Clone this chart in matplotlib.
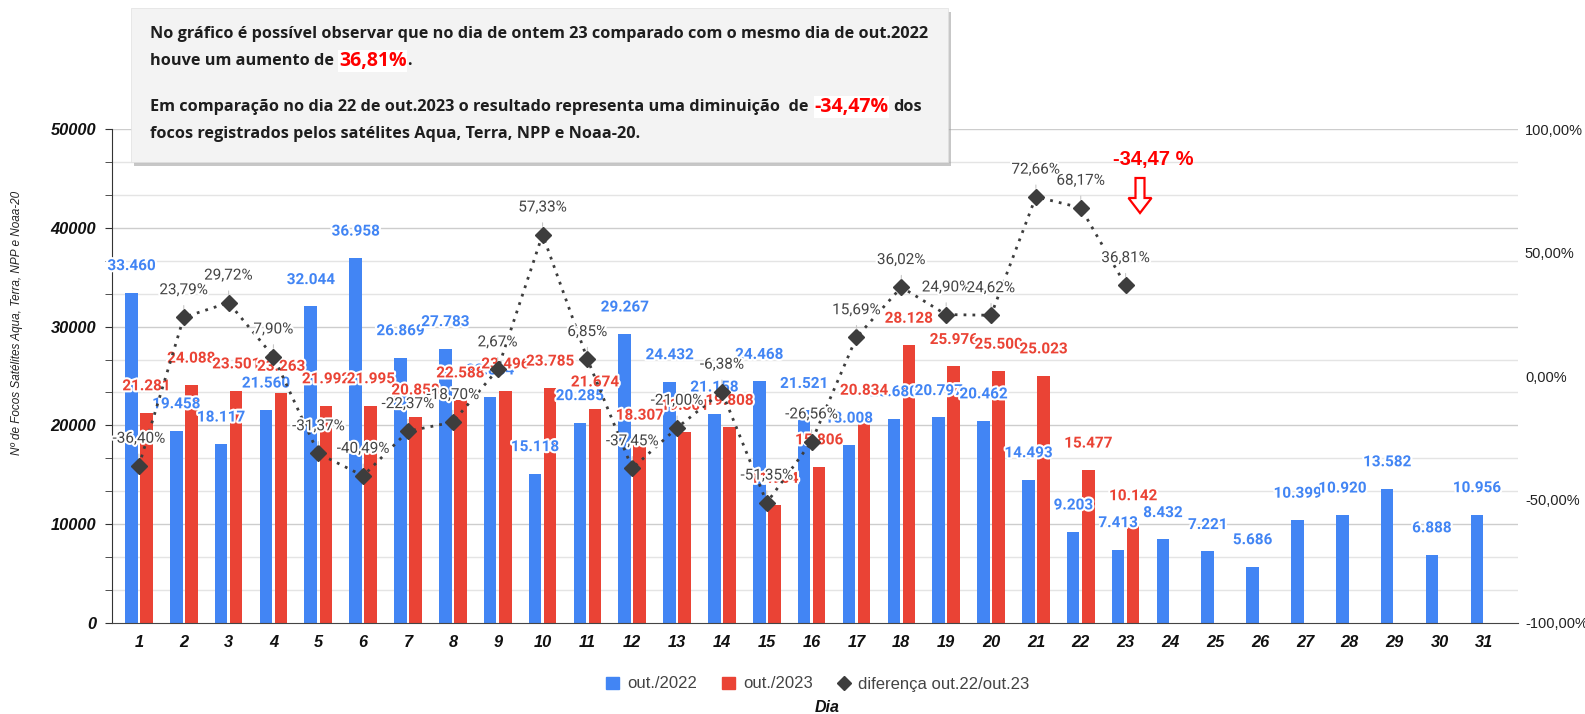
import matplotlib
matplotlib.use('Agg')
import matplotlib.pyplot as plt
import matplotlib.patches as mpatches
import matplotlib.patheffects as pe
from matplotlib.lines import Line2D

# Focos por dia - out/2022 e out/2023
days = list(range(1, 32))
focos_2022 = [33460, 19458, 18117, 21560, 32044, 36958, 26869, 27783, 22884, 15118,
              20285, 29267, 24432, 21158, 24468, 21521, 18008, 20680, 20797, 20462,
              14493, 9203, 7413, 8432, 7221, 5686, 10399, 10920, 13582, 6888, 10956]
focos_2023 = [21281, 24088, 23501, 23263, 21992, 21995, 20858, 22588, 23496, 23785,
              21674, 18307, 19301, 19808, 11904, 15806, 20834, 28128, 25976, 25500,
              25023, 15477, 10142]
diferenca = [-36.40, 23.79, 29.72, 7.90, -31.37, -40.49, -22.37, -18.70, 2.67, 57.33,
             6.85, -37.45, -21.00, -6.38, -51.35, -26.56, 15.69, 36.02, 24.90, 24.62,
             72.66, 68.17, 36.81]
days_2023 = days[:len(focos_2023)]

BLUE = '#4285F4'
RED = '#EA4335'
DARK = '#3d3d3d'


def fmt_int(v):
    return f'{v:,}'.replace(',', '.')


def fmt_pct(v):
    return f'{v:.2f}%'.replace('.', ',')


fig = plt.figure(figsize=(15.85, 7.14), dpi=100)
ax = fig.add_axes([112 / 1585, 1 - 622.7 / 714, (1518 - 112) / 1585, (622.7 - 129.3) / 714])

off = 0.168
w = 0.28
ax.bar([d - off for d in days], focos_2022, width=w, color=BLUE, zorder=2)
ax.bar([d + off for d in days_2023], focos_2023, width=w, color=RED, zorder=2)

halo = [pe.withStroke(linewidth=3, foreground='white')]
for d, v in zip(days, focos_2022):
    ax.annotate(fmt_int(v), (d - off, v), xytext=(0, 19), textcoords='offset points',
                ha='center', va='center', color=BLUE, fontsize=11, fontweight='bold',
                family='Roboto', path_effects=halo, zorder=4)
for d, v in zip(days_2023, focos_2023):
    ax.annotate(fmt_int(v), (d + off, v), xytext=(0, 19), textcoords='offset points',
                ha='center', va='center', color=RED, fontsize=11, fontweight='bold',
                family='Roboto', path_effects=halo, zorder=4)

# grade: 15 divisoes, mais escuras a cada 10000
for k in range(1, 16):
    ax.axhline(k * 50000 / 15, color='#cdcdcd' if k % 3 == 0 else '#e4e4e4', lw=1, zorder=0)

ax.set_xlim(0.40, 31.75)
ax.set_ylim(0, 50000)
ax.set_xticks(days)
ax.set_xticklabels([str(d) for d in days])
ax.set_yticks(range(0, 50001, 10000))
ax.set_yticks([k * 50000 / 15 for k in range(15) if k % 3 != 0], minor=True)
ax.tick_params(axis='x', length=0, pad=9)
ax.tick_params(axis='y', which='both', length=5, color='#333', pad=6.5)
for lab in ax.get_xticklabels() + ax.get_yticklabels():
    lab.set_family('Liberation Sans')
    lab.set_fontweight('bold')
    lab.set_fontstyle('italic')
    lab.set_fontsize(11.8)
    lab.set_color('#111')
for s in ['top', 'right']:
    ax.spines[s].set_visible(False)
ax.spines['left'].set_color('#333')
ax.spines['bottom'].set_color('#444')

ax2 = ax.twinx()
ax2.plot(days_2023, diferenca, linestyle=(0, (1, 2.2)), lw=2, color=DARK,
         marker='D', markersize=8, zorder=3)
for d, p in zip(days_2023, diferenca):
    ax2.annotate(fmt_pct(p), (d, p), xytext=(0, 19.5), textcoords='offset points',
                 ha='center', va='center', color='#444', fontsize=11, family='Roboto',
                 path_effects=halo, zorder=5,
                 arrowprops=dict(arrowstyle='-', color='#c8c8c8', lw=0.8,
                                 shrinkA=4, shrinkB=6))
ax2.set_ylim(-100, 100)
ax2.set_yticks([-100, -50, 0, 50, 100])
ax2.set_yticklabels([fmt_pct(v) for v in [-100, -50, 0, 50, 100]])
ax2.tick_params(axis='y', length=0, pad=5)
for lab in ax2.get_yticklabels():
    lab.set_family('Liberation Sans')
    lab.set_fontsize(10.5)
    lab.set_color('#222')
for s in ax2.spines.values():
    s.set_visible(False)

# destaque -34,47 %
fig.text(1153 / 1585, 1 - 159 / 714, '-34,47 %', color='#ff0000', fontsize=14.5,
         fontweight='bold', family='Liberation Sans', ha='center', va='center')
arrow = mpatches.FancyArrow(11.40, 5.36, 0, -0.35, width=0.09, head_width=0.23,
                            head_length=0.15, length_includes_head=True,
                            facecolor='white', edgecolor='#ff0000', lw=1.6,
                            transform=fig.dpi_scale_trans)
fig.add_artist(arrow)

# caixa de texto
bx0, by0, bw, bh = 131 / 1585, 1 - 162 / 714, 817 / 1585, 154 / 714
fig.add_artist(mpatches.Rectangle((bx0 + 3 / 1585, by0 - 4 / 714), bw, bh,
                                  transform=fig.transFigure, facecolor='#9a9a9a',
                                  edgecolor='none', alpha=0.55, zorder=5))
fig.add_artist(mpatches.Rectangle((bx0, by0), bw, bh, transform=fig.transFigure,
                                  facecolor='#f3f3f3', edgecolor='#e0e0e0', lw=0.5, zorder=6))

renderer = fig.canvas.get_renderer()
base = dict(family='Open Sans', fontweight='bold', fontsize=11.7, color='#1e1e1e')
hl = dict(family='Open Sans', fontweight='bold', fontsize=14, color='#ff0000',
          bbox=dict(facecolor='white', edgecolor='none', pad=0.5))


def put_line(y_px, parts):
    x = 150 / 1585
    for s, kw, gap in parts:
        t = fig.text(x, 1 - y_px / 714, s, va='center', ha='left', zorder=7, **kw)
        bb = t.get_window_extent(renderer)
        x = (bb.x1 + gap) / fig.bbox.width


put_line(34, [('No gráfico é possível observar que no dia de ontem 23 comparado com o mesmo dia de out.2022', base, 0)])
put_line(61, [('houve um aumento de', base, 5), ('36,81%', hl, 1), ('.', base, 0)])
put_line(107, [('Em comparação no dia 22 de out.2023 o resultado representa uma diminuição  de', base, 6),
               ('-34,47%', hl, 5), ('dos', base, 0)])
put_line(134, [('focos registrados pelos satélites Aqua, Terra, NPP e Noaa-20.', base, 0)])

# eixos / legenda
fig.text(17 / 1585, 1 - 323 / 714, 'Nº de Focos Satélites Aqua, Terra, NPP e Noaa-20',
         rotation=90, ha='center', va='center', fontsize=8.5, fontstyle='italic',
         family='Liberation Sans', color='#222')
fig.text(827 / 1585, 1 - 707 / 714, 'Dia', ha='center', va='center', fontsize=11.5,
         fontweight='bold', fontstyle='italic', family='Liberation Sans', color='#111')

handles = [
    mpatches.Patch(color=BLUE, label='out./2022'),
    mpatches.Patch(color=RED, label='out./2023'),
    Line2D([], [], color=DARK, marker='D', linestyle='none', markersize=7,
           label='diferença out.22/out.23'),
]
leg = fig.legend(handles=handles, loc='center', bbox_to_anchor=(818 / 1585, 1 - 684 / 714),
                 ncol=3, frameon=False, handlelength=0.75, handleheight=0.75,
                 handletextpad=0.5, columnspacing=1.5,
                 prop={'family': 'Liberation Sans', 'size': 12})
for t in leg.get_texts():
    t.set_color('#444')

fig.savefig('out.png', dpi=100)
